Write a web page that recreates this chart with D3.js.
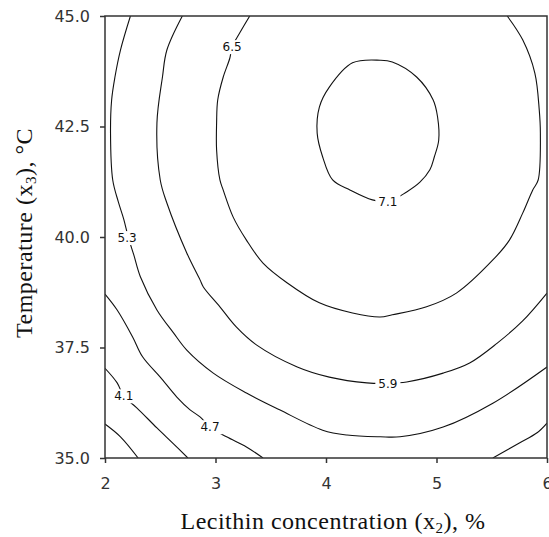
<!DOCTYPE html>
<html lang="en">
  <head>
    <meta charset="utf-8">
    <title>Contour plot</title>
    <script src="https://cdnjs.cloudflare.com/ajax/libs/d3/7.8.5/d3.min.js" charset="utf-8"></script>
<style type="text/css">
body{margin:0;background:#fff;}
.tick text{font:16px "DejaVu Sans",sans-serif;fill:#333;}
.tick line{stroke:#333;stroke-width:1.5px;}
.ctr{fill:none;stroke:#111;stroke-width:1.1px;}
.clab{font:12px "DejaVu Sans",sans-serif;fill:#111;}
.title{font:24px "Liberation Serif","Times New Roman",serif;fill:#111;letter-spacing:0.5px;}
</style>
  </head>
  <body>
    <div id='main'></div>
<script type="text/javascript">

////////////////////////////////// data //////////////////////////////////

var xTicks = [2, 3, 4, 5, 6]
var yTicks = [35, 37.5, 40, 42.5, 45]

var levels = [3.5, 4.1, 4.7, 5.3, 5.9, 6.5, 7.1]

// contour lines, [lecithin %, temperature C]
var c35 = [[2.0,35.77],[2.14,35.48],[2.30,35.0]]
var c41 = [[2.0,37.03],[2.11,36.70],[2.17,36.40],[2.29,36.13],[2.47,35.68],[2.62,35.32],[2.75,35.0]]
var c47a = [[2.0,38.71],[2.11,38.35],[2.25,37.74],[2.34,37.29],[2.50,36.83],[2.65,36.38],[2.77,36.09],[2.86,35.93],
  [2.95,35.70],[3.10,35.48],[3.28,35.25],[3.43,35.0]]
var c47b = [[5.51,35.0],[5.75,35.34],[5.91,35.57],[6.0,35.79]]
var c53 = [[2.23,45.0],[2.14,44.23],[2.09,43.62],[2.06,43.10],[2.05,42.35],[2.07,41.29],[2.12,40.8],[2.17,40.4],
  [2.21,40.0],[2.26,39.6],[2.32,39.1],[2.47,38.35],[2.62,37.83],[2.74,37.44],[2.98,36.92],[3.28,36.47],
  [3.58,36.09],[3.97,35.63],[4.19,35.52],[4.49,35.48],[4.67,35.48],[5.06,35.70],[5.51,36.24],[6.0,37.06]]
var c59 = [[2.70,45.0],[2.56,44.23],[2.52,43.62],[2.47,42.58],[2.50,41.29],[2.56,40.77],[2.74,39.64],[2.86,39.03],
  [2.89,38.87],[3.04,38.42],[3.19,37.96],[3.37,37.56],[3.74,37.06],[4.03,36.83],[4.37,36.70],[4.56,36.69],
  [4.73,36.72],[5.06,36.92],[5.30,37.15],[5.55,37.60],[5.78,38.10],[6.0,38.73]]
var c65 = [[3.31,45.0],[3.22,44.62],[3.15,44.30],[3.13,44.05],[3.07,43.62],[3.02,43.10],[3.01,42.58],[3.01,41.97],
  [3.04,41.29],[3.07,41.06],[3.16,40.45],[3.28,39.93],[3.43,39.41],[3.65,38.96],[3.94,38.51],[4.24,38.28],
  [4.49,38.19],[4.60,38.24],[4.91,38.42],[5.18,38.73],[5.51,39.48],[5.66,39.93],[5.78,40.54],[5.87,41.06],
  [5.92,41.29],[5.94,42.35],[5.93,42.87],[5.89,43.71],[5.78,44.46],[5.64,45.0]]
var c71 = [[4.49,44.00],[4.24,43.94],[4.03,43.39],[3.94,42.94],[3.92,42.35],[3.97,41.81],[4.06,41.29],[4.22,41.06],
  [4.42,40.84],[4.56,40.80],[4.73,41.02],[4.85,41.24],[4.94,41.52],[4.98,41.81],[5.02,42.19],[5.01,42.71],
  [4.97,43.10],[4.82,43.62],[4.60,43.96]]

// label text and where it sits on its line
var labText = ["4.1", "4.7", "5.3", "5.9", "6.5", "7.1"]
var labAt = [[2.17,36.40],[2.95,35.70],[2.20,39.98],[4.56,36.69],[3.15,44.30],[4.56,40.80]]

////////////////////////////////// chart //////////////////////////////////

var width = 549, height = 537
var m = {left:105, right:547, top:16, bottom:458}

var svg = d3.select("#main").append("svg").attr("width",width).attr("height",height)

var x = d3.scaleLinear().domain([2,6]).range([m.left,m.right])
var y = d3.scaleLinear().domain([35,45]).range([m.bottom,m.top])

var lines = [
  {lev:levels[0], pts:c35, closed:false},
  {lev:levels[1], pts:c41, closed:false},
  {lev:levels[2], pts:c47a, closed:false},
  {lev:levels[2], pts:c47b, closed:false},
  {lev:levels[3], pts:c53, closed:false},
  {lev:levels[4], pts:c59, closed:false},
  {lev:levels[5], pts:c65, closed:false},
  {lev:levels[6], pts:c71, closed:true}
]

var line = d3.line().x(function(d){return x(d[0])}).y(function(d){return y(d[1])})
  .curve(d3.curveCatmullRom.alpha(0.5))
var lineClosed = d3.line().x(function(d){return x(d[0])}).y(function(d){return y(d[1])})
  .curve(d3.curveCatmullRomClosed.alpha(0.5))

svg.append("clipPath").attr("id","clip").append("rect")
  .attr("x",m.left).attr("y",m.top).attr("width",m.right-m.left).attr("height",m.bottom-m.top)

var plot = svg.append("g").attr("clip-path","url(#clip)")

plot.selectAll("path.ctr").data(lines).enter().append("path")
  .attr("class","ctr")
  .attr("d",function(d){return d.closed ? lineClosed(d.pts) : line(d.pts)})

// labels knock a gap in the line
var labs = plot.selectAll("g.lab").data(labText).enter().append("g")
  .attr("class","lab")
  .attr("transform",function(d,i){return "translate("+x(labAt[i][0])+","+y(labAt[i][1])+")"})
var labRect = labs.append("rect").attr("fill","#fff")
var labTxt = labs.append("text").attr("class","clab")
  .attr("text-anchor","middle").attr("dy","0.35em")
  .text(function(d){return d})
labTxt.each(function(d,i){
  var b = this.getBBox()
  d3.select(labRect.nodes()[i]).attr("x",b.x-3).attr("y",b.y).attr("width",b.width+6).attr("height",b.height)
})

// axes
svg.append("g").attr("transform","translate(0,"+m.bottom+")")
  .call(d3.axisBottom(x).tickValues(xTicks).tickSize(5).tickPadding(15).tickFormat(d3.format("d")))
  .call(function(g){g.select(".domain").remove()})

svg.append("g").attr("transform","translate("+m.left+",0)")
  .call(d3.axisLeft(y).tickValues(yTicks).tickSize(5).tickPadding(10).tickFormat(d3.format(".1f")))
  .call(function(g){g.select(".domain").remove()})

svg.append("rect").attr("x",m.left).attr("y",m.top).attr("width",m.right-m.left).attr("height",m.bottom-m.top)
  .attr("fill","none").attr("stroke","#333").attr("stroke-width",1.5)

// titles
var xt = svg.append("text").attr("class","title").attr("text-anchor","middle")
  .attr("x",333).attr("y",529)
xt.append("tspan").text("Lecithin concentration (x")
xt.append("tspan").attr("dy",3.5).style("font-size","15px").text("2")
xt.append("tspan").attr("dy",-3.5).text("), %")

var yt = svg.append("text").attr("class","title").attr("text-anchor","middle")
  .attr("transform","translate(32,233) rotate(-90)")
yt.append("tspan").text("Temperature (x")
yt.append("tspan").attr("dy",4).style("font-size","15px").text("3")
yt.append("tspan").attr("dy",-4).text("), \u00B0C")

</script>
  </body>
</html>
